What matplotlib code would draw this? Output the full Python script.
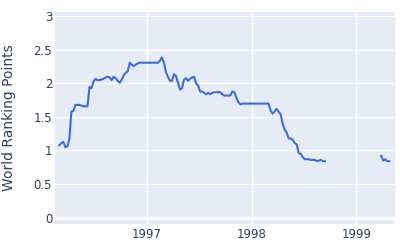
import matplotlib
matplotlib.use("Agg")
import matplotlib.pyplot as plt
import numpy as np
import pandas as pd

plt.rcParams["font.family"] = ["DejaVu Sans"]

seg1_start = "1996-03-03"
seg1_values = [1.08, 1.11, 1.13, 1.05, 1.06, 1.17, 1.58, 1.59, 1.68, 1.68,
               1.68, 1.67, 1.66, 1.66, 1.66, 1.95, 1.93, 2.03, 2.07, 2.05,
               2.05, 2.06, 2.07, 2.09, 2.10, 2.09, 2.05, 2.10, 2.08, 2.04,
               2.01, 2.06, 2.12, 2.16, 2.18, 2.31, 2.28, 2.26, 2.28, 2.30,
               2.31, 2.31, 2.31, 2.31, 2.31, 2.31, 2.31, 2.31, 2.31, 2.31,
               2.34, 2.39, 2.31, 2.17, 2.10, 2.04, 2.04, 2.14, 2.11, 2.01,
               1.91, 1.93, 2.06, 2.08, 2.04, 2.07, 2.09, 2.10, 2.00, 1.97,
               1.88, 1.88, 1.86, 1.84, 1.86, 1.84, 1.86, 1.87, 1.87, 1.87,
               1.87, 1.84, 1.82, 1.82, 1.82, 1.82, 1.88, 1.87, 1.79, 1.72,
               1.69, 1.70, 1.70, 1.70, 1.70, 1.70, 1.70, 1.70, 1.70, 1.70,
               1.70, 1.70, 1.70, 1.70, 1.70, 1.60, 1.55, 1.58, 1.62, 1.58,
               1.54, 1.40, 1.31, 1.27, 1.18, 1.18, 1.16, 1.11, 1.09, 0.96,
               0.95, 0.90, 0.87, 0.87, 0.87, 0.86, 0.86, 0.86, 0.84, 0.85,
               0.86, 0.84, 0.84]
seg2_start = "1999-03-28"
seg2_values = [0.92, 0.85, 0.87, 0.84, 0.84]

x_start = "1996-02-17"
x_end = "1999-05-15"
y_min, y_max = -0.097, 3.067
y_ticks = [0, 0.5, 1, 1.5, 2, 2.5, 3]
y_tick_labels = ["0", "0.5", "1", "1.5", "2", "2.5", "3"]
x_ticks = ["1997-01-01", "1998-01-01", "1999-01-01"]
x_tick_labels = ["1997", "1998", "1999"]
y_title = "World Ranking Points"

text_color = "#2a3f5f"
bg_color = "#E5ECF6"
line_color = "#4169E1"

fig = plt.figure(figsize=(4, 2.5), dpi=100)
ax = fig.add_axes([55/400, 26/250, 340/400, 212/250])
ax.set_facecolor(bg_color)

d1 = pd.date_range(seg1_start, periods=len(seg1_values), freq="7D")
d2 = pd.date_range(seg2_start, periods=len(seg2_values), freq="7D")
ax.plot(d1, seg1_values, color=line_color, lw=1.5, solid_joinstyle="round", zorder=3)
ax.plot(d2, seg2_values, color=line_color, lw=1.5, solid_joinstyle="round", zorder=3)

ax.set_xlim(pd.Timestamp(x_start), pd.Timestamp(x_end))
ax.set_ylim(y_min, y_max)
ax.set_yticks(y_ticks)
ax.set_yticklabels(y_tick_labels)
ax.set_xticks([pd.Timestamp(t) for t in x_ticks])
ax.set_xticklabels(x_tick_labels)

ax.grid(True, color="white", lw=1)
ax.axhline(0, color="white", lw=2, zorder=2)
ax.set_axisbelow(True)
for s in ax.spines.values():
    s.set_visible(False)
ax.tick_params(axis="y", length=0, labelsize=8.5, colors=text_color, pad=2)
ax.tick_params(axis="x", length=0, labelsize=8.5, colors=text_color, pad=3)
ax.set_ylabel(y_title, fontsize=10, color=text_color, labelpad=13)

fig.savefig("out.png", dpi=100)
